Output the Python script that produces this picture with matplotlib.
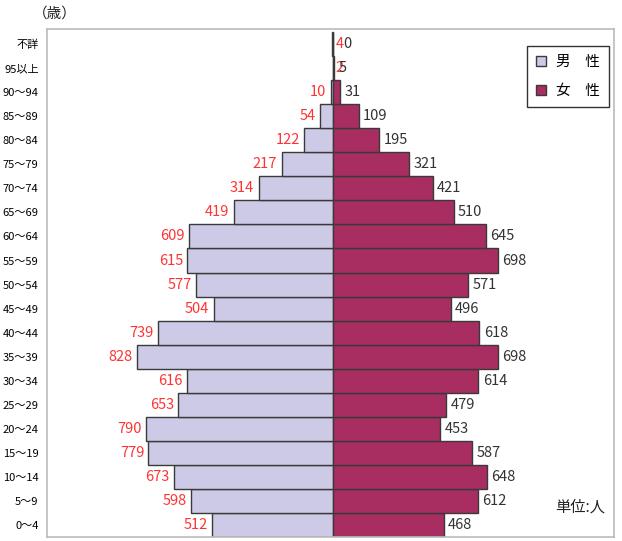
import matplotlib.pyplot as plt
import numpy as np

plt.rcParams['font.family'] = ['Noto Sans CJK JP', 'DejaVu Sans']

# 年齢階級（下から上へ）
ages = ['0～4', '5～9', '10～14', '15～19', '20～24', '25～29', '30～34',
        '35～39', '40～44', '45～49', '50～54', '55～59', '60～64', '65～69',
        '70～74', '75～79', '80～84', '85～89', '90～94', '95以上', '不詳']
male = [512, 598, 673, 779, 790, 653, 616, 828, 739, 504, 577, 615, 609,
        419, 314, 217, 122, 54, 10, 2, 4]
female = [468, 612, 648, 587, 453, 479, 614, 698, 618, 496, 571, 698, 645,
          510, 421, 321, 195, 109, 31, 5, 0]

male_color = '#CCCAE6'
female_color = '#A82D60'
edge = '#3a3a3a'

fig = plt.figure(figsize=(6.22, 5.41), dpi=100)
ax = fig.add_axes([0.0756, 0.0074, 0.9115, 0.9386])

y = np.arange(len(ages))
ax.barh(y, -np.array(male), height=1.0, color=male_color, edgecolor=edge,
        linewidth=1.0, label='男　性')
ax.barh(y, female, height=1.0, color=female_color, edgecolor=edge,
        linewidth=1.0, label='女　性')

# 数値ラベル（ごく小さい値は中央線の右側に寄せる）
off = 18
for i, (m, f) in enumerate(zip(male, female)):
    if m < 5:
        ax.text(10, i, str(m), ha='left', va='center', color='#FF3333',
                fontsize=10.5)
    else:
        ax.text(-m - off, i, str(m), ha='right', va='center', color='#FF3333',
                fontsize=10.5)
    fx = f + off if f > 0 else 42
    ax.text(fx, i, str(f), ha='left', va='center', color='#333333',
            fontsize=10.5)

ax.set_xlim(-1207, 1186)
ax.set_ylim(-0.5, 20.62)
ax.set_xticks([])
ax.set_yticks(y)
ax.set_yticklabels(ages, fontsize=8)
ax.tick_params(axis='y', length=0, pad=6)
for s in ax.spines.values():
    s.set_color('#BBBBBB')
    s.set_linewidth(1.2)

leg = ax.legend(loc='upper right', bbox_to_anchor=(0.991, 0.967), fontsize=10.5,
                frameon=True, fancybox=False, handlelength=0.7, handleheight=0.7,
                handletextpad=0.7, labelspacing=1.05, borderpad=0.6,
                borderaxespad=0)
leg.get_frame().set_edgecolor('black')
leg.get_frame().set_linewidth(1.0)

ax.text(0.984, 0.058, '単位:人', transform=ax.transAxes, ha='right',
        va='center', fontsize=11, color='#222222')
fig.text(0.088, 0.974, '（歳）', ha='center', va='center', fontsize=10.5,
         color='#222222')

fig.savefig('out.png', dpi=100)
